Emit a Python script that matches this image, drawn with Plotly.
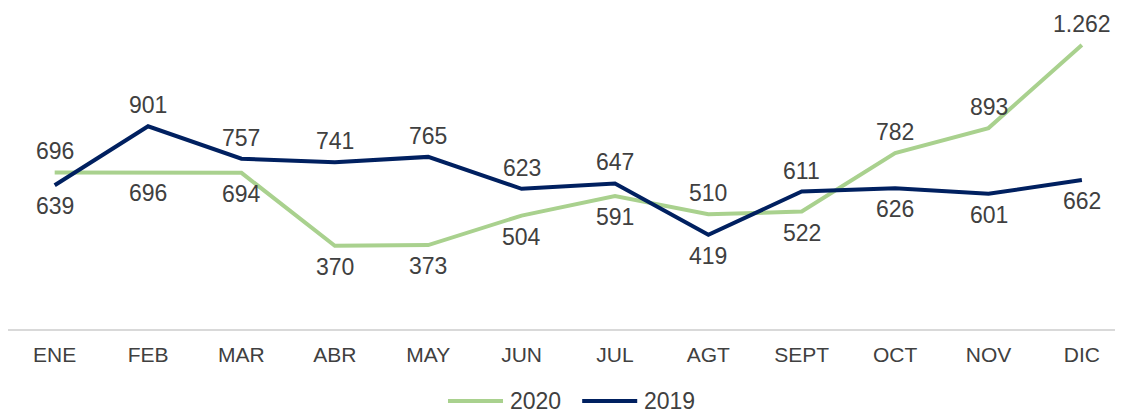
import plotly.graph_objects as go

meses = ["ENE", "FEB", "MAR", "ABR", "MAY", "JUN", "JUL", "AGT", "SEPT", "OCT", "NOV", "DIC"]
valores_2020 = [696, 696, 694, 370, 373, 504, 591, 510, 522, 782, 893, 1262]
valores_2019 = [639, 901, 757, 741, 765, 623, 647, 419, 611, 626, 601, 662]

# etiqueta arriba (1) o abajo (-1) de la linea
lado_2020 = [1, -1, -1, -1, -1, -1, -1, 1, -1, 1, 1, 1]
lado_2019 = [-1, 1, 1, 1, 1, 1, 1, -1, 1, -1, -1, -1]

VERDE = "#A9D18E"
AZUL = "#002060"
GRIS = "#404040"

fig = go.Figure()

series = [("2020", valores_2020, lado_2020, VERDE), ("2019", valores_2019, lado_2019, AZUL)]

for nombre, valores, lados, color in series:
    fig.add_trace(go.Scatter(
        x=meses, y=valores, name=nombre,
        mode="lines",
        line=dict(color=color, width=4),
        showlegend=False,
    ))
    for mes, v, lado in zip(meses, valores, lados):
        fig.add_annotation(
            x=mes, y=v, text=f"{v:,}".replace(",", "."),
            showarrow=False, yshift=21 * lado,
            font=dict(size=23, color=GRIS),
        )

# leyenda manual (lineas largas como en el original)
ley_y = -0.2286
for x0, nombre, color in [(0.3918, "2020", VERDE), (0.5113, "2019", AZUL)]:
    fig.add_shape(type="line", xref="paper", yref="paper",
                  x0=x0, x1=x0 + 0.049, y0=ley_y, y1=ley_y,
                  line=dict(color=color, width=4))
    fig.add_annotation(xref="paper", yref="paper", x=x0 + 0.0533, y=ley_y,
                       xanchor="left", yanchor="middle", text=nombre,
                       showarrow=False, font=dict(size=23, color=GRIS))

fig.update_layout(
    width=1123, height=415,
    margin=dict(l=0, r=0, t=6, b=94),
    paper_bgcolor="white",
    plot_bgcolor="white",
    font=dict(family="Liberation Sans, Arial, sans-serif", color=GRIS),
    showlegend=False,
    xaxis=dict(
        range=[-0.5, 11.526],
        showgrid=False,
        showline=True, linecolor="#D9D9D9", linewidth=2,
        ticks="",
        tickfont=dict(size=21, color=GRIS),
        ticklabelstandoff=6,
    ),
    yaxis=dict(
        range=[0, 1400],
        visible=False,
    ),
)

fig.write_html("out.html")
